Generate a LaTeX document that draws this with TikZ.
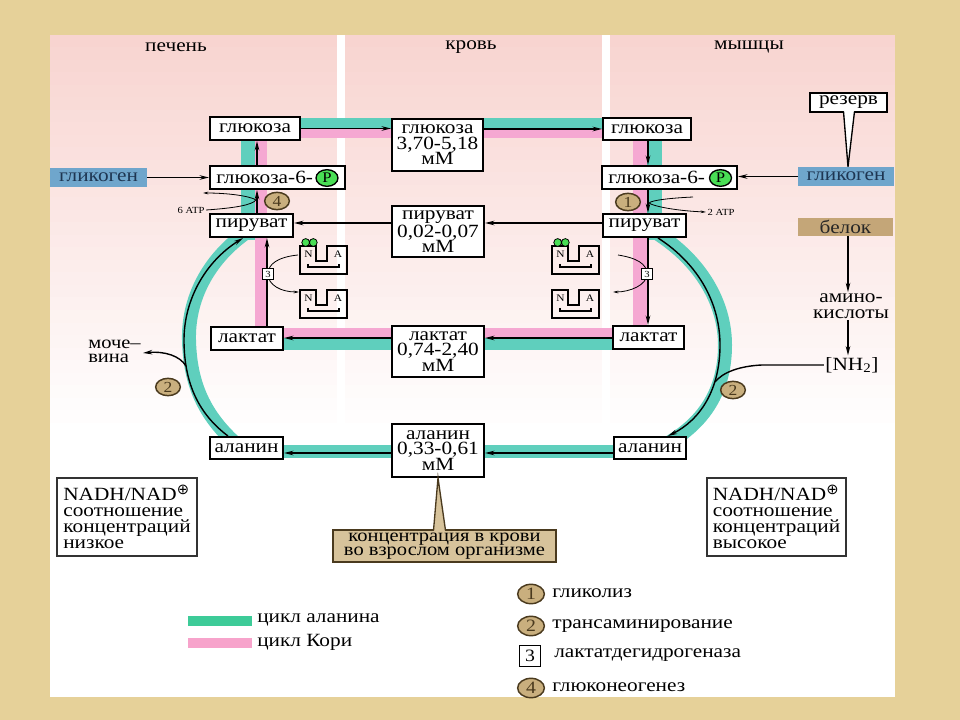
\documentclass[tikz,border=0pt]{standalone}
\usepackage{fontspec}
\setmainfont{Liberation Serif}[FakeStretch=1.14]
\newfontfamily\symfont{DejaVu Sans}
\usetikzlibrary{shapes.geometric,arrows.meta}
\definecolor{parch}{HTML}{E6D199}
\definecolor{pinkbg}{HTML}{F8D4D0}
\definecolor{bandgreen}{HTML}{5FCFBD}
\definecolor{bandpink}{HTML}{F5A8D2}
\definecolor{leggreen}{HTML}{3DCB98}
\definecolor{legpink}{HTML}{F7A3CB}
\definecolor{glyblue}{HTML}{6FA6CC}
\definecolor{glytext}{HTML}{1E3652}
\definecolor{beltan}{HTML}{C4A678}
\definecolor{calltan}{HTML}{D7C39B}
\definecolor{circtan}{HTML}{C9AF7E}
\definecolor{circbrd}{HTML}{4A3A1E}
\definecolor{pgreen}{HTML}{49DE55}
\newcommand\fmain{\fontsize{14}{11.6}\selectfont}
\newcommand\fsmall{\fontsize{7.5}{7.5}\selectfont}
\newcommand\oplusmark{\raisebox{5pt}{\fontsize{11}{11}\selectfont\symfont ⊕}}
\begin{document}
\begin{tikzpicture}[x=0.75pt,y=-0.75pt,
  box/.style={draw,line width=1.5pt,fill=white,inner sep=0pt,font=\fmain,align=center},
  arr/.style={-{Stealth[length=7pt,width=3.4pt]},line width=1.05pt},
  thinarr/.style={-{Stealth[length=4pt,width=2pt]},line width=0.6pt},
  num/.style={ellipse,draw=circbrd,line width=1.1pt,fill=circtan,inner sep=0pt,minimum width=18.5pt,minimum height=13pt,font=\fontsize{11.5}{11.5}\selectfont,text=circbrd},
  lnum/.style={num,minimum width=20pt,minimum height=14.5pt,font=\fontsize{13}{13}\selectfont},
  pcirc/.style={ellipse,draw,line width=1pt,fill=pgreen,inner sep=0pt,minimum width=16.5pt,minimum height=12.5pt,font=\fontsize{11}{11}\selectfont},
  txt/.style={font=\fmain,inner sep=0pt},
  three/.style={draw,fill=white,line width=0.6pt,minimum size=8pt,inner sep=0pt,font=\fontsize{7}{7}\selectfont},
  nadbox/.style={draw=black!80,line width=1pt,align=left,font=\fontsize{14}{12}\selectfont,inner sep=0pt},
  band/.style={line width=10.5pt},
  naicon/.pic={
    \draw[line width=1.1pt] (0,0) -- (16,0) -- (16,15) -- (27,15) -- (27,0) -- (47,0) -- (47,28) -- (0,28) -- cycle;
    \draw[line width=1.1pt] (8,18) -- (8,21) -- (39,21) -- (39,18);
    \node[font=\fsmall,inner sep=0pt] at (8.5,8) {N};
    \node[font=\fsmall,inner sep=0pt] at (38,8) {A};
  }
]
\useasboundingbox (0,0) rectangle (960,720);
% background
\fill[parch] (0,0) rectangle (960,720);
\fill[white] (50,35) rectangle (895,697);
\foreach \i in {0,...,31} {
  \pgfmathtruncatemacro\p{100-3.2*\i}
  \pgfmathsetmacro\ya{35+12.5*\i}
  \pgfmathsetmacro\yb{35+12.5*\i+13}
  \fill[pinkbg!\p!white] (50,\ya) rectangle (337,\yb);
  \fill[pinkbg!\p!white] (345,\ya) rectangle (602,\yb);
  \fill[pinkbg!\p!white] (610,\ya) rectangle (895,\yb);
}

% headers
\node[txt] (hliv) at (176,47) {печень};
\node[txt] (hblo) at (471,47) {кровь};
\node[txt] (hmus) at (749,47) {мышцы};

% bands
\fill[bandpink] (255,129) rectangle (647,138);
\fill[bandpink] (255,129) rectangle (267,333);
\fill[bandpink] (633,129) rectangle (647,333);
\fill[bandpink] (255,328) rectangle (647,338);
\fill[bandgreen] (241,118) rectangle (662,129);
\fill[bandgreen] (241,118) rectangle (255,240);
\fill[bandgreen] (647,118) rectangle (662,240);
\fill[bandgreen] (270,338) rectangle (630,350);
\fill[bandgreen] (270,445) rectangle (630,458);
\draw[bandgreen,band] (247,232) .. controls (207,260) and (188,300) .. (189,340) .. controls (190,385) and (205,415) .. (234,442);
\draw[bandgreen,band] (655,232) .. controls (703,262) and (725,305) .. (725,345) .. controls (725,392) and (703,422) .. (670,442);

% liver boxes
\node[box,minimum width=67.5pt,minimum height=17.25pt] (lglu) at (255,128.5) {глюкоза};
\node[box,minimum width=101.25pt,minimum height=17.25pt] (lg6p) at (277.5,177.5) {};
\node[txt,anchor=west] (lg6pt) at (216,177.5) {глюкоза-6-};
\node[pcirc] (lp) at (327,178) {P};
\node[box,minimum width=62.25pt,minimum height=17.25pt] (lpyr) at (251.5,225.5) {пируват};
\node[box,minimum width=54pt,minimum height=17.25pt] (llac) at (247,338.5) {лактат};
\node[box,minimum width=54.75pt,minimum height=16.5pt] (lala) at (246.5,448) {аланин};

% blood boxes
\node[box,minimum width=68.25pt,minimum height=39pt] (bglu) at (437.5,145) {глюкоза\\3,70-5,18\\мМ};
\node[box,minimum width=69pt,minimum height=38.25pt] (bpyr) at (438,231.5) {пируват\\0,02-0,07\\мМ};
\node[box,minimum width=69pt,minimum height=38.25pt] (blac) at (438,351.5) {лактат\\0,74-2,40\\мМ};
\node[box,minimum width=69pt,minimum height=39.75pt] (bala) at (438,450.5) {аланин\\0,33-0,61\\мМ};

% muscle boxes
\node[box,minimum width=66pt,minimum height=16.5pt] (mglu) at (647,129) {глюкоза};
\node[box,minimum width=101.25pt,minimum height=17.25pt] (mg6p) at (669.5,177.5) {};
\node[txt,anchor=west] (mg6pt) at (608,177.5) {глюкоза-6-};
\node[pcirc] (mp) at (720.5,178) {P};
\node[box,minimum width=62.25pt,minimum height=17.25pt] (mpyr) at (644.5,225.5) {пируват};
\node[box,minimum width=53.25pt,minimum height=17.25pt] (mlac) at (648.5,337.5) {лактат};
\node[box,minimum width=54pt,minimum height=16.5pt] (mala) at (650,448) {аланин};

% side nodes
\node[fill=glyblue,text=glytext,minimum width=72.75pt,minimum height=14.25pt,inner sep=0pt,font=\fmain] (lgly) at (98.5,177.5) {гликоген};
\node[fill=glyblue,text=glytext,minimum width=72pt,minimum height=14.25pt,inner sep=0pt,font=\fmain] (rgly) at (846,176.5) {гликоген};
\node[fill=beltan,text=black!85,minimum width=71.25pt,minimum height=13.5pt,inner sep=0pt,font=\fmain] (belok) at (845.5,227) {белок};
\node[draw,line width=1.2pt,fill=white,minimum width=57.75pt,minimum height=14.25pt,inner sep=0pt,font=\fmain] (rez) at (848.5,102.5) {резерв};
\fill[white] (843.8,110.2) -- (848,160) -- (854.2,110.2) -- cycle;
\draw[line width=1pt] (843.5,111.5) -- (rgly.north -| 848,0) -- (854.5,111.5);
\node[txt,align=center,inner sep=1pt] (amino) at (851,306) {амино-\\кислоты};
\node[txt,inner sep=1pt] (nh2) at (852,365) {[NH\textsubscript{2}]};
\node[font=\fontsize{13.5}{10.5}\selectfont,align=left,anchor=west,inner sep=0pt] (moch) at (88,351) {моче–\\вина};
\coordinate (urea) at (143,353);

% NADH boxes
\node[nadbox,minimum width=105pt,minimum height=58.5pt] (nadl) at (127,517) {NADH/NAD\oplusmark\\соотношение\\концентраций\\низкое};
\node[nadbox,minimum width=104.25pt,minimum height=58.5pt] (nadr) at (776.5,517) {NADH/NAD\oplusmark\\соотношение\\концентраций\\высокое};

% concentration callout
\node[draw=circbrd,line width=1.5pt,fill=calltan,minimum width=167.25pt,minimum height=24pt,inner sep=0pt,align=center,font=\fontsize{13.5}{10.8}\selectfont] (conc) at (444.5,546) {концентрация в крови\\во взрослом организме};
\fill[calltan] (433.8,531.6) -- (438,480) -- (445.2,531.6) -- cycle;
\draw[line width=1pt,circbrd] (433.5,530.5) -- (bala.south -| 438,0) -- (445.5,530.5);

% glucose arrows
\draw[arr] (lglu.east) -- (bglu.west |- lglu.east);
\draw[arr] (bglu.east |- 0,129) -- (mglu.west);
% pyruvate arrows
\draw[arr] (mpyr.west |- 0,223) -- (bpyr.east |- 0,223);
\draw[arr] (bpyr.west |- 0,223) -- (lpyr.east |- 0,223);
% lactate arrows
\draw[arr] (mlac.west |- 0,338) -- (blac.east |- 0,338);
\draw[arr] (blac.west |- 0,338) -- (llac.east |- 0,338);
% alanine arrows
\draw[arr] (mala.west |- 0,453) -- (bala.east |- 0,453);
\draw[arr] (bala.west |- 0,453) -- (lala.east |- 0,453);
% liver verticals
\draw[arr] (lpyr.north -| 257,0) -- (lg6p.south -| 257,0);
\draw[arr] (lg6p.north -| 257,0) -- (lglu.south -| 257,0);
\draw[arr] (llac.north -| 267,0) -- (lpyr.south -| 267,0);
% muscle verticals
\draw[arr] (mglu.south -| 648,0) -- (mg6p.north -| 648,0);
\draw[arr] (mg6p.south -| 648,0) -- (mpyr.north -| 648,0);
\draw[arr] (mpyr.south -| 648,0) -- (mlac.north -| 648,0);
% glycogen
\draw[arr] (lgly.east) -- (lg6p.west);
\draw[arr] (rgly.west) -- (mg6p.east |- rgly.west);
% amino
\draw[arr] (belok.south -| 848,0) -- (amino.north -| 848,0);
\draw[arr] (amino.south -| 848,0) -- (nh2.north -| 848,0);
% alanine curves
\draw[arr] (lala.north -| 228,0) .. controls (200,415) and (184,385) .. (184,340) .. controls (184,300) and (205,262) .. (lpyr.south -| 243,0);
\draw[arr] (mpyr.south -| 658,0) .. controls (700,265) and (720,305) .. (720,345) .. controls (720,390) and (700,420) .. (mala.north -| 668,0);
\coordinate (nhjoin) at (715,382);
\draw[line width=1.05pt] (nh2.west) -- (762,365) .. controls (740,366) and (723,372) .. (nhjoin);
\coordinate (ureastart) at (186,366);
\draw[arr] (ureastart) .. controls (180,356) and (165,351) .. (urea);

% ATP
\node[font=\fontsize{7}{7}\selectfont,inner sep=1pt] (atp6) at (191,210) {6 ATP};
\coordinate (atp6out) at (203,193);
\draw[thinarr] (atp6.east) .. controls (235,208) and (252,205) .. (256,200) .. controls (250,196) and (228,193) .. (atp6out);
\node[font=\fontsize{7}{7}\selectfont,inner sep=1pt] (atp2) at (721,212) {2 ATP};
\coordinate (atp2in) at (693,197);
\draw[thinarr] (atp2in) .. controls (672,198) and (652,200) .. (649,203) .. controls (655,207) and (680,211) .. (atp2.west);

% circles
\node[num] (c4) at (277,201) {4};
\node[num] (c1) at (628,202) {1};
\node[num] (c2l) at (168,387) {2};
\node[num] (c2r) at (733,390) {2};

% NAD icons and LDH
\pic at (300,246) {naicon};
\pic at (300,290) {naicon};
\pic at (552,246) {naicon};
\pic at (552,290) {naicon};
\draw[fill=pgreen,line width=0.6pt] (305.7,242.5) circle[radius=3.9] (313.3,242.5) circle[radius=3.9];
\draw[fill=pgreen,line width=0.6pt] (557.7,242.5) circle[radius=3.9] (565.3,242.5) circle[radius=3.9];
\coordinate (lnadh) at (298,255);
\coordinate (lnad) at (299,292);
\coordinate (mnadh) at (618,255);
\coordinate (mnad) at (613,292);
\draw[thinarr] (lnadh) .. controls (278,257) and (268,264) .. (268,274) .. controls (268,285) and (281,292) .. (lnad);
\draw[thinarr] (mnadh) .. controls (637,258) and (647,264) .. (647,274) .. controls (647,285) and (630,292) .. (mnad);
\node[three] (l3) at (268,274) {3};
\node[three] (m3) at (647,274) {3};

% legend
\fill[leggreen] (188,616) rectangle (252,626);
\node[txt,anchor=west] (lg1) at (257,620) {цикл аланина};
\fill[legpink] (188,638) rectangle (252,648);
\node[txt,anchor=west] (lg2) at (257,642) {цикл Кори};
\node[lnum] (n1) at (531,594) {1};
\node[txt,anchor=west] (t1) at (552,593) {гликолиз};
\node[lnum] (n2) at (531,626) {2};
\node[txt,anchor=west] (t2) at (552,626) {трансаминирование};
\node[draw,line width=0.8pt,minimum size=15.5pt,inner sep=0pt,font=\fontsize{13}{13}\selectfont] (n3) at (530,656) {3};
\node[txt,anchor=west] (t3) at (554,655) {лактатдегидрогеназа};
\node[lnum] (n4) at (531,688) {4};
\node[txt,anchor=west] (t4) at (552,687) {глюконеогенез};
\end{tikzpicture}
\end{document}
